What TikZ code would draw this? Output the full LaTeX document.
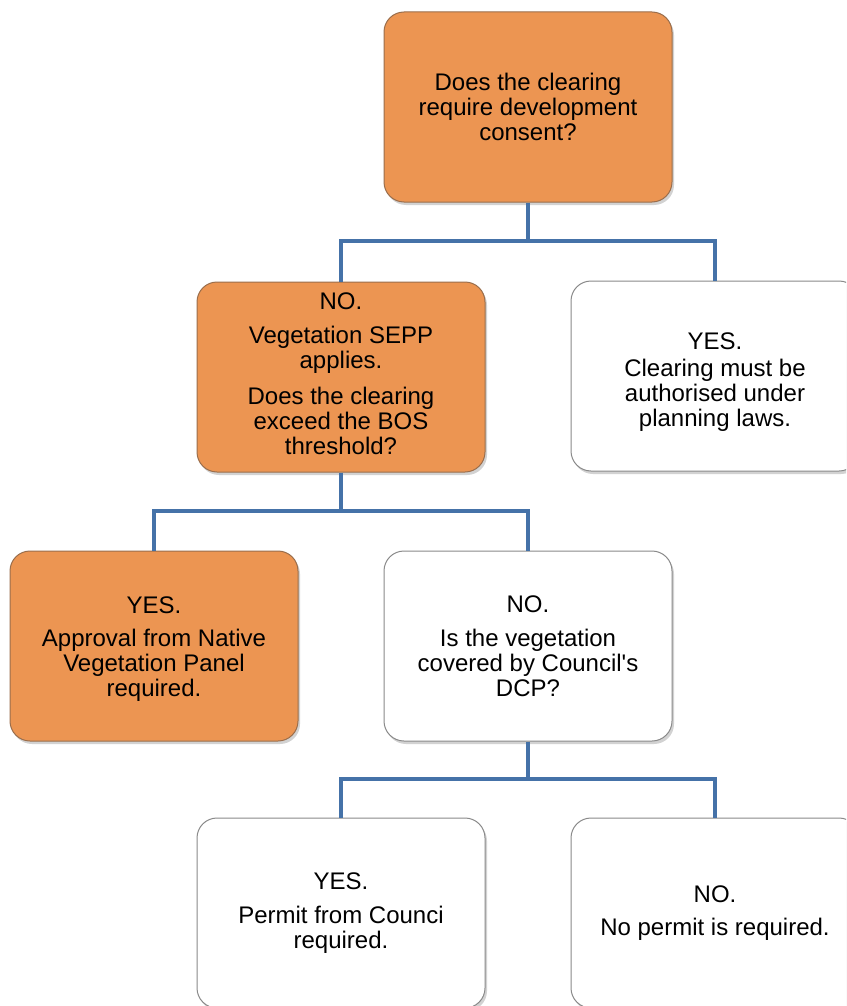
\documentclass[tikz,border=0pt]{standalone}
\usepackage{fontspec}
\setmainfont{Liberation Sans}[Ligatures=TeXOff]
\usetikzlibrary{shadows}
\definecolor{boxorange}{HTML}{EC9552}
\definecolor{orangeedge}{HTML}{9A6E4C}
\definecolor{greyedge}{HTML}{8A8A8A}
\definecolor{linkblue}{HTML}{4572A8}
\begin{document}
\begin{tikzpicture}[x=1pt,y=-1pt,
  box/.style={rounded corners=20pt, minimum width=288pt, minimum height=190pt,
    align=center, font=\fontsize{24pt}{25pt}\selectfont, line width=1pt,
    drop shadow={opacity=0.35,shadow xshift=2pt,shadow yshift=-3pt}},
  obox/.style={box, fill=boxorange, draw=orangeedge},
  wbox/.style={box, fill=white, draw=greyedge},
  conn/.style={draw=linkblue, line width=4.5pt}]
\useasboundingbox (0,0) rectangle (846,1006);
\clip (0,0) rectangle (846,1006);
\fill[white] (0,0) rectangle (846,1006);

\node[obox] (top) at (528,107) {Does the clearing\\require development\\consent?};
\node[obox] (no1) at (341,377) {NO.\\[9pt]Vegetation SEPP\\applies.\\[11pt]Does the clearing\\exceed the BOS\\threshold?\rule[-7pt]{0pt}{0pt}};
\node[wbox] (yes1) at (715,376) {\rule{0pt}{29pt}YES.\\[2pt]Clearing must be\\authorised under\\planning laws.};
\node[obox] (yes2) at (154,646) {\rule{0pt}{22pt}YES.\\[8pt]Approval from Native\\Vegetation Panel\\required.};
\node[wbox] (no2) at (528,646) {NO.\\[9pt]Is the vegetation\\covered by Council's\\DCP?};
\node[wbox] (yes3) at (341,913) {YES.\\[9pt]Permit from Counci\\required.};
\node[wbox] (no3) at (715,913) {NO.\\[8pt]No permit is required.};

\coordinate (j1) at (528,241);
\coordinate (j2) at (341,511);
\coordinate (j3) at (528,779);

\draw[conn] (top.south) -- (j1) -| (no1.north);
\draw[conn] (j1) -| (yes1.north);
\draw[conn] (no1.south) -- (j2) -| (yes2.north);
\draw[conn] (j2) -| (no2.north);
\draw[conn] (no2.south) -- (j3) -| (yes3.north);
\draw[conn] (j3) -| (no3.north);
\end{tikzpicture}
\end{document}
